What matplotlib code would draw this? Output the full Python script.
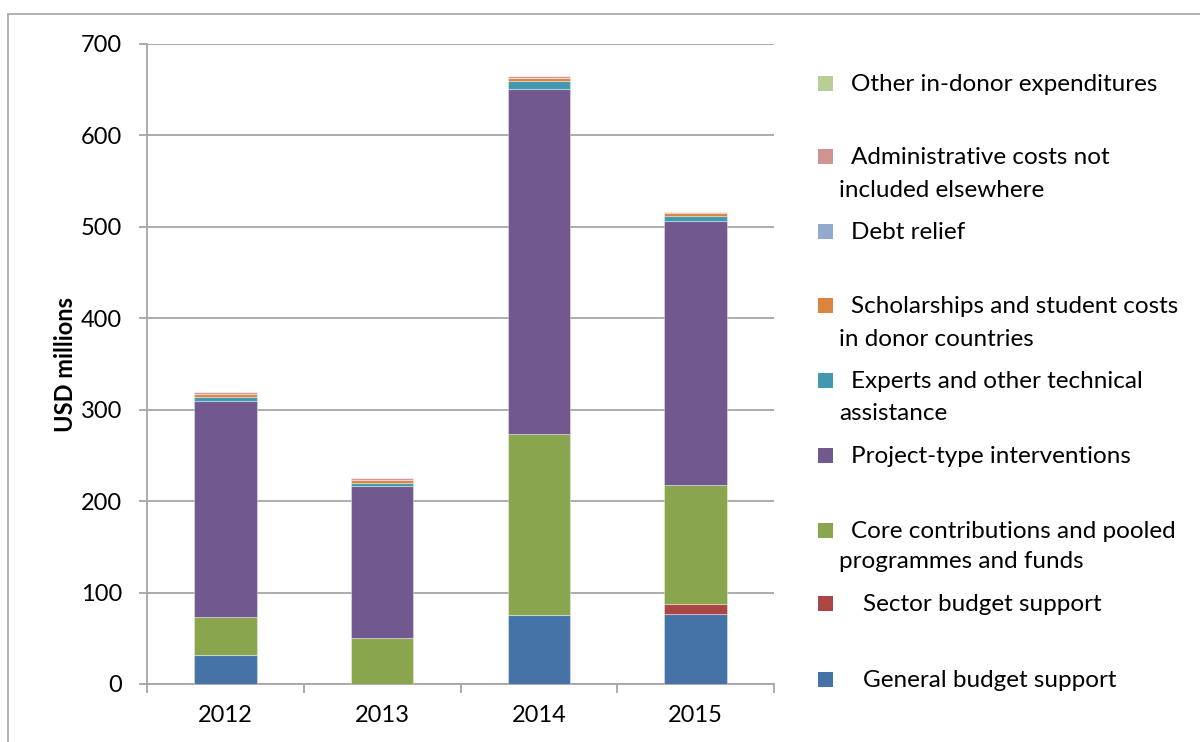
import matplotlib
matplotlib.use("Agg")
import matplotlib.pyplot as plt
from matplotlib.patches import Rectangle
import numpy as np

years = ["2012", "2013", "2014", "2015"]
general_budget = [32, 0, 75, 77]
sector_budget = [0, 0, 1, 11]
core_contrib = [41, 50, 197, 130]
project_type = [236, 167, 378, 288]
experts = [5, 3, 9, 6]
scholarships = [3, 3, 3, 3]
debt_relief = [0, 0, 0, 0]
admin_costs = [2, 2.5, 2, 1.5]
other_in_donor = [0, 0, 0, 0]

series = [
    ("General budget support", general_budget, "#4572A7"),
    ("Sector budget support", sector_budget, "#AA4643"),
    ("Core contributions and pooled programmes and funds", core_contrib, "#89A54E"),
    ("Project-type interventions", project_type, "#71588F"),
    ("Experts and other technical assistance", experts, "#4198AF"),
    ("Scholarships and student costs in donor countries", scholarships, "#DB843D"),
    ("Debt relief", debt_relief, "#93A9CF"),
    ("Administrative costs not included elsewhere", admin_costs, "#D19392"),
    ("Other in-donor expenditures", other_in_donor, "#B9CD96"),
]

W, H = 1200, 742
fig = plt.figure(figsize=(12, 7.42), dpi=100)
FONT = "Lato"
FS = 17.5
TFS = 17

def fx(px):
    return px / W

def fy(py):
    return 1 - py / H

# outer chart border
fig.add_artist(Rectangle((fx(8), fy(760)), fx(1220) - fx(8), fy(14) - fy(760),
                         transform=fig.transFigure, fill=False,
                         edgecolor="#A6A6A6", linewidth=1.2))

ax = fig.add_axes([fx(147), fy(684), fx(774) - fx(147), fy(44) - fy(684)])
x = np.arange(len(years))
bottom = np.zeros(len(years))
for name, vals, col in series:
    vals = np.array(vals, dtype=float)
    ax.bar(x, vals, width=0.4, bottom=bottom, color=col,
           edgecolor=(1, 1, 1, 0.35), linewidth=0.8, zorder=3)
    bottom += vals

ax.set_xlim(-0.5, len(years) - 0.5)
ax.set_ylim(0, 700)
ax.set_yticks(np.arange(0, 701, 100))
ax.yaxis.grid(True, color="#A6A6A6", linewidth=1.3, zorder=0)
ax.set_axisbelow(True)
for s in ["top", "right"]:
    ax.spines[s].set_visible(False)
for s in ["left", "bottom"]:
    ax.spines[s].set_color("#A6A6A6")
    ax.spines[s].set_linewidth(1.3)
ax.set_xticks(x)
ax.set_xticklabels(years, fontname=FONT, fontsize=TFS)
ax.set_xticks(np.arange(-0.5, len(years), 1.0), minor=True)
ax.tick_params(axis="x", which="major", length=0, pad=15)
ax.tick_params(axis="x", which="minor", length=6.5, width=1.3, color="#A6A6A6")
ax.tick_params(axis="y", length=5.8, width=1.3, color="#A6A6A6", pad=12)
for lab in ax.get_yticklabels():
    lab.set_fontname(FONT)
    lab.set_fontsize(TFS)
ax.set_ylabel("USD millions", fontname=FONT, fontsize=17, fontweight="bold", labelpad=3)

# legend (manual, Excel-style layout)
legend_items = [
    (8, [("Other in-donor expenditures", 851, 91)]),
    (7, [("Administrative costs not", 851, 164), ("included elsewhere", 839, 197)]),
    (6, [("Debt relief", 851, 239)]),
    (5, [("Scholarships and student costs", 851, 313), ("in donor countries", 839, 346)]),
    (4, [("Experts and other technical", 851, 388), ("assistance", 839, 420)]),
    (3, [("Project-type interventions", 851, 463)]),
    (2, [("Core contributions and pooled", 851, 538), ("programmes and funds", 839, 568)]),
    (1, [("Sector budget support", 863, 611)]),
    (0, [("General budget support", 863, 687)]),
]
for idx, lines in legend_items:
    col = series[idx][2]
    base = lines[0][2]
    fig.add_artist(Rectangle((fx(818), fy(base)), fx(15), 15 / H,
                             transform=fig.transFigure, facecolor=col, edgecolor="none"))
    for txt, px, py in lines:
        fig.text(fx(px), fy(py), txt, fontname=FONT, fontsize=FS,
                 ha="left", va="baseline", color="black")

fig.savefig("out.png", dpi=100)
